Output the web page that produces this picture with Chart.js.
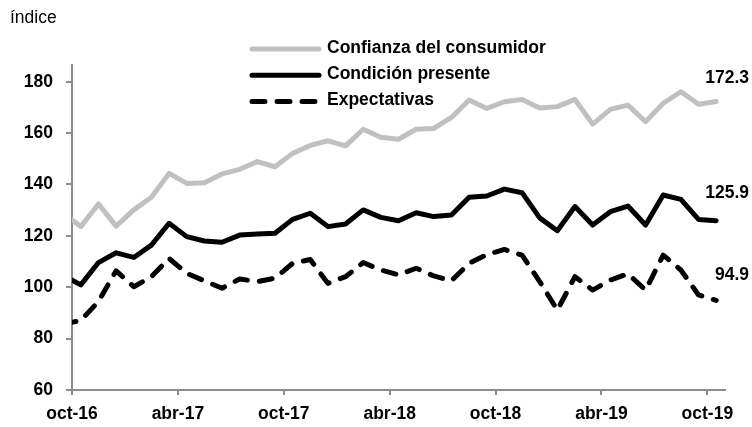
<!DOCTYPE html>
<html>
<head>
<meta charset="utf-8">
<script src="https://cdn.jsdelivr.net/npm/chart.js@4/dist/chart.umd.min.js"></script>
<style>
  html, body { margin: 0; padding: 0; background: #fff; }
  #wrap { width: 752px; height: 427px; position: relative; }
</style>
</head>
<body>
<div id="wrap"><canvas id="chart" width="752" height="427"></canvas></div>
<script>
// monthly data, sep-16 is only partly visible at the left edge
const months = ["sep-16","oct-16","nov-16","dic-16","ene-17","feb-17","mar-17","abr-17","may-17","jun-17","jul-17","ago-17",
  "sep-17","oct-17","nov-17","dic-17","ene-18","feb-18","mar-18","abr-18","may-18","jun-18","jul-18","ago-18",
  "sep-18","oct-18","nov-18","dic-18","ene-19","feb-19","mar-19","abr-19","may-19","jun-19","jul-19","ago-19",
  "sep-19","oct-19"];

const confianza = [128.8, 123.6, 132.4, 123.8, 130.1, 135.0, 144.3, 140.4, 140.7, 144.1, 145.9, 148.9,
  146.9, 152.1, 155.2, 157.0, 155.0, 161.5, 158.4, 157.6, 161.5, 161.8, 166.1, 172.9,
  169.6, 172.2, 173.1, 169.8, 170.3, 173.1, 163.5, 169.2, 170.9, 164.4, 171.6, 176.1,
  171.2, 172.3];

const condicion = [104.7, 100.9, 109.6, 113.4, 111.6, 116.4, 124.9, 119.7, 118.0, 117.5, 120.3, 120.7,
  121.0, 126.4, 128.8, 123.6, 124.6, 130.1, 127.2, 125.9, 129.0, 127.5, 128.1, 135.0,
  135.5, 138.2, 136.8, 127.0, 122.0, 131.4, 124.2, 129.4, 131.6, 124.2, 135.9, 134.2,
  126.4, 125.9];

const expectativas = [85.8, 87.0, 94.5, 106.4, 100.2, 104.1, 111.2, 105.4, 102.5, 99.6, 103.2, 102.2,
  103.5, 109.3, 110.8, 101.5, 104.1, 109.6, 106.7, 104.8, 107.4, 104.4, 102.5, 109.3,
  112.7, 114.7, 112.5, 102.2, 91.1, 104.1, 98.9, 102.8, 105.2, 98.9, 112.5, 106.7,
  97.0, 94.9];

const tickLabels = ["oct-16","abr-17","oct-17","abr-18","oct-18","abr-19","oct-19"];
const yTicks = [60, 80, 100, 120, 140, 160, 180];

const FONT = '"Liberation Sans", Arial, sans-serif';
const FSIZE = 17.5;
const AXIS = "#8c8c8c";

const toXY = arr => arr.map((v, i) => ({ x: i, y: v }));

// legend drawn inside the plot, plus value labels at the right end
const overlay = {
  id: "overlay",
  afterDraw(chart) {
    const ctx = chart.ctx;
    ctx.save();
    ctx.fillStyle = "#000";
    ctx.font = FSIZE + "px " + FONT;
    ctx.textBaseline = "middle";
    ctx.textAlign = "left";
    ctx.fillText("índice", 10, 18);

    chart.data.datasets.forEach((ds, i) => {
      const y = 49 + i * 26.3;
      ctx.beginPath();
      ctx.strokeStyle = ds.borderColor;
      ctx.lineWidth = ds.borderWidth;
      ctx.lineCap = ds.borderCapStyle || "butt";
      ctx.setLineDash(ds.borderDash || []);
      ctx.moveTo(252, y);
      ctx.lineTo(319, y);
      ctx.stroke();
      ctx.setLineDash([]);
      ctx.fillStyle = "#000";
      ctx.font = "bold " + FSIZE + "px " + FONT;
      ctx.fillText(ds.label, 327, y - 1);

      const meta = chart.getDatasetMeta(i);
      const last = meta.data[meta.data.length - 1];
      const val = ds.data[ds.data.length - 1].y;
      ctx.textAlign = "right";
      ctx.fillText(val.toFixed(1), 749, last.y + ds.endLabelDy);
      ctx.textAlign = "left";
    });
    ctx.restore();
  }
};

new Chart(document.getElementById("chart"), {
  type: "line",
  data: {
    datasets: [
      {
        label: "Confianza del consumidor",
        data: toXY(confianza),
        borderColor: "#c0c0c0",
        borderWidth: 5,
        borderCapStyle: "round",
        endLabelDy: -23
      },
      {
        label: "Condición presente",
        data: toXY(condicion),
        borderColor: "#000",
        borderWidth: 5,
        borderCapStyle: "round",
        endLabelDy: -28
      },
      {
        label: "Expectativas",
        data: toXY(expectativas),
        borderColor: "#000",
        borderWidth: 5,
        borderDash: [13, 12],
        borderCapStyle: "round",
        endLabelDy: -25
      }
    ]
  },
  options: {
    responsive: false,
    animation: false,
    clip: 0,
    layout: { padding: { top: 65, right: 27, left: 0, bottom: 0 } },
    elements: {
      point: { radius: 0, hoverRadius: 0 },
      line: { tension: 0, borderJoinStyle: "round" }
    },
    plugins: {
      legend: { display: false },
      tooltip: { enabled: false }
    },
    scales: {
      x: {
        type: "linear",
        min: 0.5,
        max: 37.5,
        afterBuildTicks: s => { s.ticks = tickLabels.map((t, i) => ({ value: 0.5 + i * 6 })); },
        afterFit: s => { s.height = 37; },
        grid: { display: true, drawOnChartArea: false, drawTicks: true, tickLength: 5, color: AXIS, lineWidth: 2 },
        border: { display: true, color: AXIS, width: 2 },
        ticks: {
          autoSkip: false,
          maxRotation: 0,
          padding: 9,
          color: "#000",
          font: { family: FONT, size: FSIZE, weight: "bold" },
          callback: (v, i) => tickLabels[i]
        }
      },
      y: {
        min: 60,
        max: 186.5,
        afterBuildTicks: s => { s.ticks = yTicks.map(v => ({ value: v })); },
        afterFit: s => { s.width = 72; },
        grid: { display: true, drawOnChartArea: false, drawTicks: true, tickLength: 6, color: AXIS, lineWidth: 2 },
        border: { display: true, color: AXIS, width: 2 },
        ticks: {
          padding: 13,
          color: "#000",
          font: { family: FONT, size: FSIZE, weight: "bold" },
          callback: v => v
        }
      }
    }
  },
  plugins: [overlay]
});
</script>
</body>
</html>
